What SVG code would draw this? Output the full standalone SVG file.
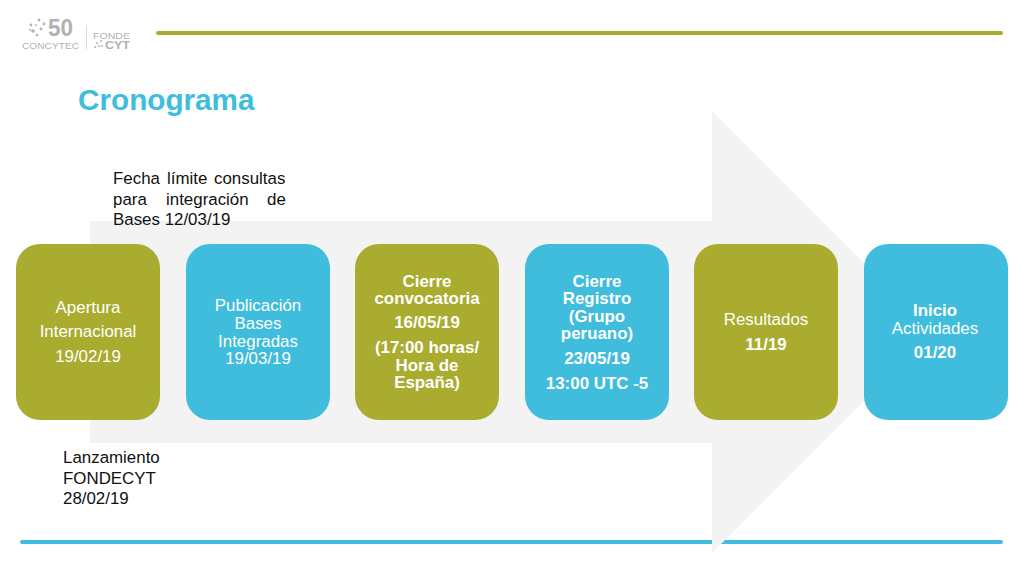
<svg xmlns="http://www.w3.org/2000/svg" width="1024" height="576" viewBox="0 0 1024 576">
<style>
text{font-family:"Liberation Sans",Arial,sans-serif}
.box{stroke-width:0}
.ol{fill:#a9ac2e}
.bl{fill:#40bcdd}
.t{fill:#fff;font-size:16.9px;text-anchor:middle}
.b{font-weight:700}
.k{fill:#111;font-size:16.9px}
.lg{fill:#b0b2b1}
.rule{stroke-width:4;stroke-linecap:round;fill:none}
</style>
<rect width="1024" height="576" fill="#fff"/>
<g id="header">
<path class="rule" d="M158 33H1001" stroke="#a9ac2e"/>
<path class="rule" d="M22 542H1001" stroke="#40bcdd"/>
<text x="78" y="110" font-size="29.7" font-weight="700" fill="#40bcdd">Cronograma</text>
</g>
<g id="logo">
<g class="lg">
<circle cx="39" cy="20" r="1.4"/><circle cx="31" cy="25" r="1.4"/><circle cx="44" cy="24" r="1.4"/><circle cx="33" cy="31" r="1.8"/><circle cx="41" cy="29" r="1.4"/><circle cx="37" cy="35" r="1.3"/><circle cx="30" cy="30" r="1"/><circle cx="36" cy="25" r="1"/>
<circle cx="97" cy="43" r="1"/><circle cx="101" cy="41" r="1"/><circle cx="99" cy="46" r="1"/><circle cx="95" cy="47" r="1"/><circle cx="102" cy="46" r="1"/>
</g>
<rect x="86" y="25" width="1" height="24" fill="#d9d9d9"/>
<text class="lg" x="48" y="36" font-size="23" font-weight="700" textLength="25" lengthAdjust="spacingAndGlyphs">50</text>
<text class="lg" x="22" y="49" font-size="9.5" textLength="57" lengthAdjust="spacingAndGlyphs">CONCYTEC</text>
<text class="lg" x="93" y="39" font-size="9" textLength="37" lengthAdjust="spacingAndGlyphs">FONDE</text>
<text class="lg" x="105" y="49" font-size="11" font-weight="700" textLength="25" lengthAdjust="spacingAndGlyphs">CYT</text>
</g>
<g id="arrow">
<path d="M90 221H712V111L933 332L712 553V443H90Z" fill="#f3f3f4"/>
</g>
<g id="connectors"></g>
<g id="note-consultas">
<text class="k"><tspan x="113" y="184">Fecha</tspan><tspan x="167" y="184">límite</tspan><tspan x="214" y="184">consultas</tspan></text>
<text class="k"><tspan x="113" y="205">para</tspan><tspan x="166" y="205">integración</tspan><tspan x="267" y="205">de</tspan></text>
<text class="k" x="113" y="225">Bases 12/03/19</text>
</g>
<g id="note-lanzamiento">
<text class="k"><tspan x="63" y="463">Lanzamiento</tspan><tspan x="63" y="484">FONDECYT</tspan><tspan x="63" y="504">28/02/19</tspan></text>
</g>
<g id="node-apertura">
<rect class="box ol" x="16" y="244" width="144" height="176" rx="24"/>
<text class="t"><tspan x="88" y="313">Apertura</tspan><tspan x="88" y="337">Internacional</tspan><tspan x="88" y="362">19/02/19</tspan></text>
</g>
<g id="node-publicacion">
<rect class="box bl" x="186" y="244" width="144" height="176" rx="24"/>
<text class="t"><tspan x="258" y="311">Publicación</tspan><tspan x="258" y="329">Bases</tspan><tspan x="258" y="347">Integradas</tspan><tspan x="258" y="364">19/03/19</tspan></text>
</g>
<g id="node-cierre">
<rect class="box ol" x="355" y="244" width="144" height="176" rx="24"/>
<text class="t b"><tspan x="427" y="287">Cierre</tspan><tspan x="427" y="304">convocatoria</tspan><tspan x="427" y="328">16/05/19</tspan><tspan x="427" y="353">(17:00 horas/</tspan><tspan x="427" y="371">Hora de</tspan><tspan x="427" y="388">España)</tspan></text>
</g>
<g id="node-registro">
<rect class="box bl" x="525" y="244" width="144" height="176" rx="24"/>
<text class="t b"><tspan x="597" y="287">Cierre</tspan><tspan x="597" y="304">Registro</tspan><tspan x="597" y="322">(Grupo</tspan><tspan x="597" y="339">peruano)</tspan><tspan x="597" y="364">23/05/19</tspan><tspan x="597" y="389">13:00 UTC -5</tspan></text>
</g>
<g id="node-resultados">
<rect class="box ol" x="694" y="244" width="144" height="176" rx="24"/>
<text class="t"><tspan x="766" y="325">Resultados</tspan><tspan class="b" x="766" y="350">11/19</tspan></text>
</g>
<g id="node-inicio">
<rect class="box bl" x="864" y="244" width="144" height="176" rx="24"/>
<text class="t"><tspan class="b" x="935" y="316">Inicio</tspan><tspan x="935" y="334">Actividades</tspan><tspan class="b" x="935" y="358">01/20</tspan></text>
</g>
</svg>
